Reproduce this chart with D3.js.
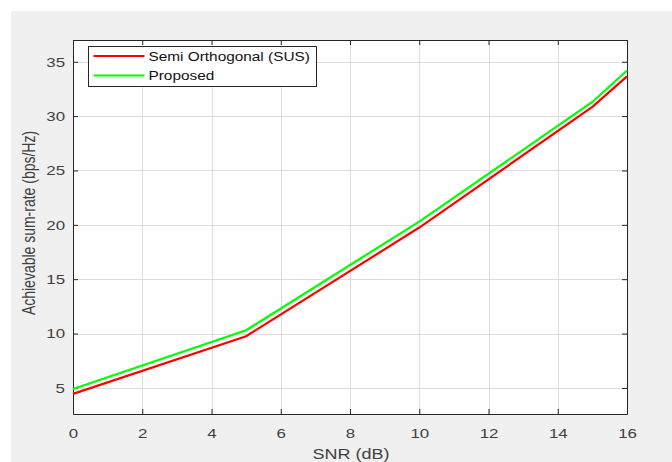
<!DOCTYPE html>
<html>
<head>
<meta charset="utf-8">
<script src="https://cdn.jsdelivr.net/npm/d3@7"></script>
<style>
  body { margin: 0; background: #fff; }
  svg text { font-family: "Liberation Sans", Arial, sans-serif; fill: #404040; }
</style>
</head>
<body>
<div id="chart"></div>
<script>
// Chart data
const snr = [0, 5, 10, 15, 16];
const susRate = [4.45, 9.75, 19.75, 30.85, 33.65];
const proposedRate = [4.9, 10.3, 20.3, 31.3, 34.2];
const xTicks = [0, 2, 4, 6, 8, 10, 12, 14, 16];
const yTicks = [5, 10, 15, 20, 25, 30, 35];
const seriesNames = ['Semi Orthogonal (SUS)', 'Proposed'];
const seriesColors = ['#ff0000', '#00ff00'];

const width = 672, height = 462;
const plot = { left: 73, right: 627, top: 40, bottom: 414 };
// the source picture is stretched sideways, so text is widened to match
const stretch = 1.25;

const svg = d3.select('#chart').append('svg')
    .attr('width', width)
    .attr('height', height);

// Figure background
svg.append('rect')
    .attr('x', 11).attr('y', 11)
    .attr('width', width - 11).attr('height', height - 11)
    .attr('fill', '#f0f0f0');

svg.append('rect')
    .attr('x', plot.left).attr('y', plot.top)
    .attr('width', plot.right - plot.left).attr('height', plot.bottom - plot.top)
    .attr('fill', '#fff');

const x = d3.scaleLinear().domain([0, 16]).range([plot.left, plot.right]);
const y = d3.scaleLinear().domain([2.6, 37]).range([plot.bottom, plot.top]);

// Grid
const grid = svg.append('g').attr('stroke', '#dcdcdc').attr('stroke-width', 1);
grid.selectAll('.gx').data(xTicks.slice(1, -1)).join('line')
    .attr('x1', d => Math.round(x(d)) + 0.5).attr('x2', d => Math.round(x(d)) + 0.5)
    .attr('y1', plot.top).attr('y2', plot.bottom);
grid.selectAll('.gy').data(yTicks).join('line')
    .attr('y1', d => Math.round(y(d)) + 0.5).attr('y2', d => Math.round(y(d)) + 0.5)
    .attr('x1', plot.left).attr('x2', plot.right);

// Axes (ticks inward, box on)
const axisColor = '#262626';
const xAxis = svg.append('g')
    .attr('transform', `translate(0,${plot.bottom})`)
    .call(d3.axisBottom(x).tickValues(xTicks).tickSizeInner(-5).tickSizeOuter(0).tickPadding(14));
const xTop = svg.append('g')
    .attr('transform', `translate(0,${plot.top})`)
    .call(d3.axisTop(x).tickValues(xTicks).tickSizeInner(-5).tickSizeOuter(0).tickFormat(''));
const yAxis = svg.append('g')
    .attr('transform', `translate(${plot.left},0)`)
    .call(d3.axisLeft(y).tickValues(yTicks).tickSizeInner(-5).tickSizeOuter(0).tickPadding(8));
const yRight = svg.append('g')
    .attr('transform', `translate(${plot.right},0)`)
    .call(d3.axisRight(y).tickValues(yTicks).tickSizeInner(-5).tickSizeOuter(0).tickFormat(''));

[xAxis, xTop, yAxis, yRight].forEach(a => {
    a.select('.domain').attr('stroke', axisColor);
    a.selectAll('.tick line').attr('stroke', axisColor);
    a.selectAll('.tick text')
        .attr('font-size', 13.5)
        .style('font-family', '"Liberation Sans", Arial, sans-serif')
        .attr('fill', '#404040')
        .attr('transform', `scale(${stretch},1)`);
});
yAxis.selectAll('.tick text').attr('x', -8 / stretch);

// Series
const line = d3.line().x((d, i) => x(snr[i])).y(d => y(d));
[susRate, proposedRate].forEach((vals, k) => {
    svg.append('path')
        .datum(vals)
        .attr('d', line)
        .attr('fill', 'none')
        .attr('stroke', seriesColors[k])
        .attr('stroke-width', 2.2);
});

// Axis labels
svg.append('text')
    .attr('transform', `translate(351,459) scale(1.2,1)`)
    .attr('text-anchor', 'middle')
    .attr('font-size', 15)
    .text('SNR (dB)');

svg.append('text')
    .attr('transform', `translate(35,223) rotate(-90) scale(1,${stretch})`)
    .attr('text-anchor', 'middle')
    .attr('font-size', 14)
    .text('Achievable sum-rate (bps/Hz)');

// Legend
const legend = svg.append('g').attr('transform', 'translate(88.5,46.5)');
legend.append('rect')
    .attr('width', 228).attr('height', 40)
    .attr('fill', '#fff')
    .attr('stroke', axisColor);
seriesNames.forEach((name, k) => {
    const ly = 9.5 + k * 19.5;
    legend.append('line')
        .attr('x1', 5).attr('x2', 56)
        .attr('y1', ly).attr('y2', ly)
        .attr('stroke', seriesColors[k])
        .attr('stroke-width', 2.2);
    legend.append('text')
        .attr('transform', `translate(60,${ly + 4.5}) scale(1.23,1)`)
        .attr('font-size', 12.5)
        .style('fill', '#111')
        .text(name);
});
</script>
</body>
</html>
